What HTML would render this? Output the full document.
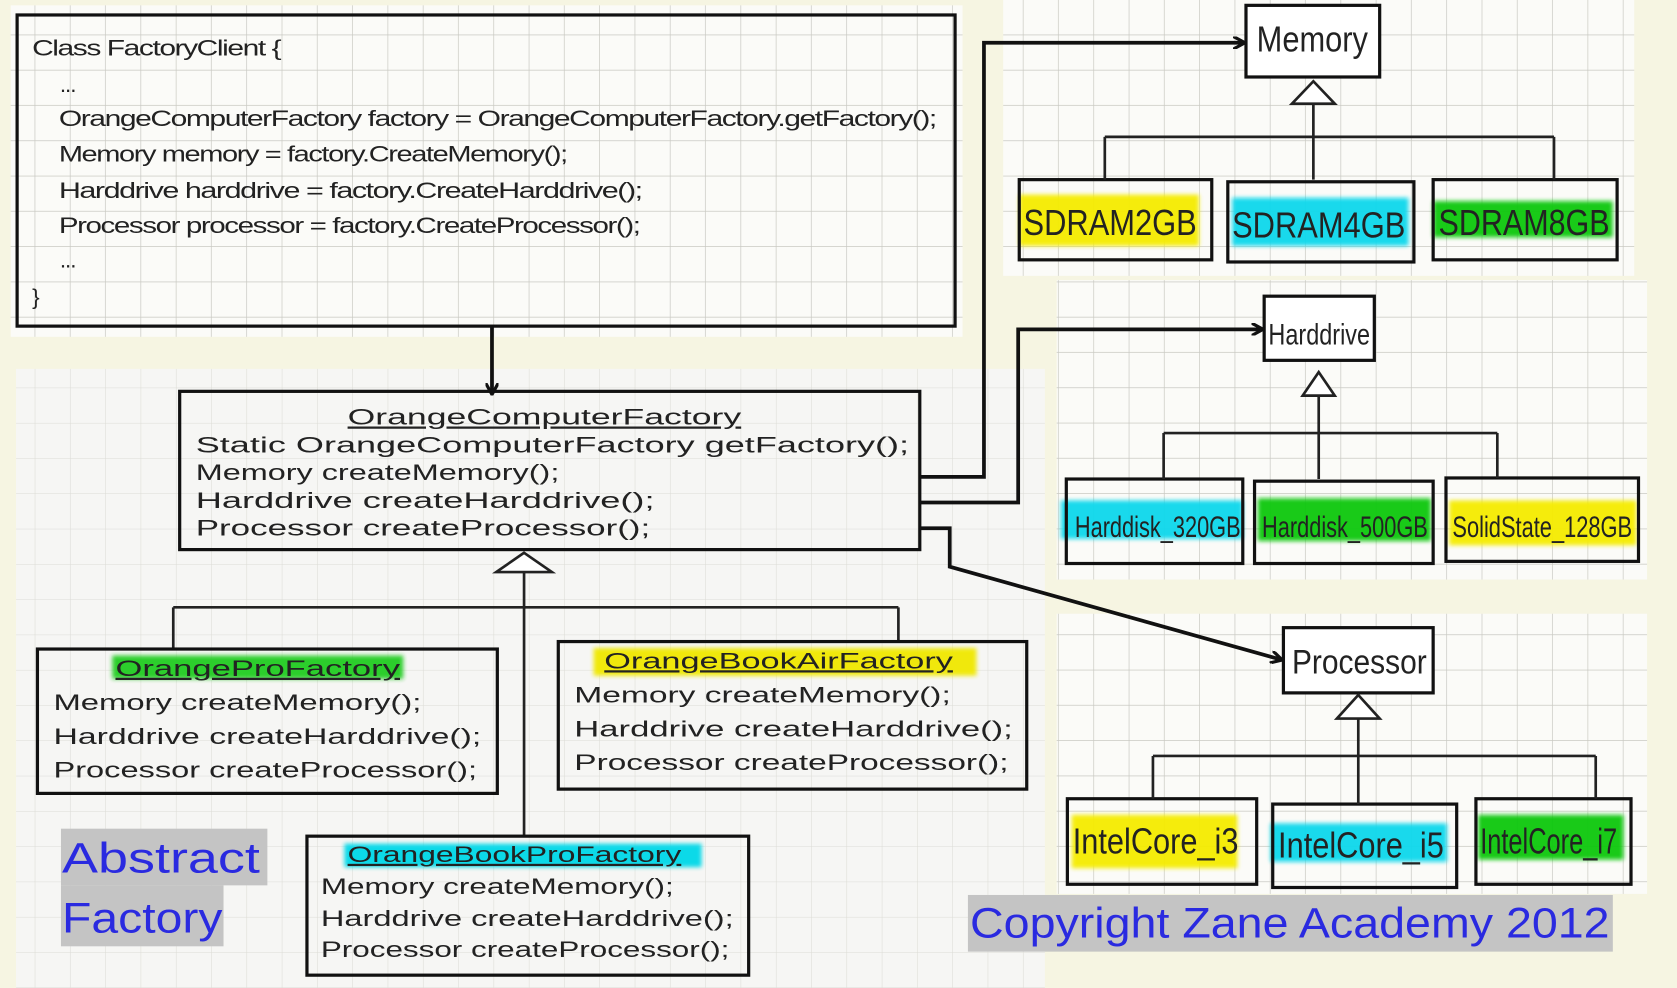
<!DOCTYPE html>
<html><head><meta charset="utf-8"><style>
html,body{margin:0;padding:0;background:#f6f5e2;}
svg{display:block;}
text{font-family:"Liberation Sans",sans-serif;fill:#222;}
</style></head><body>
<svg width="1677" height="988" viewBox="0 0 1568 924" preserveAspectRatio="none" xmlns="http://www.w3.org/2000/svg">
<defs>
<pattern id="g" width="33" height="33" patternUnits="userSpaceOnUse">
<rect width="33" height="33" fill="#fbfbf8"/>
<path d="M33 0V33M0 33H33" stroke="#c9c9c2" stroke-width="1.3" fill="none"/>
</pattern>
<pattern id="g2" width="33" height="33" patternUnits="userSpaceOnUse">
<rect width="33" height="33" fill="#f6f6f4"/>
<path d="M33 0V33M0 33H33" stroke="#dcdcd6" stroke-width="1" fill="none"/>
</pattern>
<marker id="a" markerWidth="12" markerHeight="12" refX="10" refY="6" orient="auto" markerUnits="userSpaceOnUse"><path d="M0,0 L11,6 L0,12" fill="none" stroke="#111" stroke-width="3"/></marker>
<filter id="b"><feGaussianBlur stdDeviation="2"/></filter>
</defs>
<rect width="1568" height="924" fill="#f6f5e2"/>
<!-- panels -->
<rect x="10" y="5" width="890" height="310" fill="url(#g)"/>
<rect x="15" y="345" width="962" height="579" fill="url(#g2)"/>
<rect x="938" y="0" width="590" height="258" fill="url(#g)"/>
<rect x="988" y="262" width="552" height="280" fill="url(#g)"/>
<rect x="988" y="574" width="552" height="262" fill="url(#g)"/>

<!-- client box -->
<rect x="16" y="14" width="877" height="291" fill="none" stroke="#111" stroke-width="3"/>
<g font-size="21" letter-spacing="-1">
<text x="30" y="52" textLength="232" lengthAdjust="spacingAndGlyphs">Class FactoryClient {</text>
<text x="56" y="86">...</text>
<text x="55" y="118" textLength="820" lengthAdjust="spacingAndGlyphs">OrangeComputerFactory  factory = OrangeComputerFactory.getFactory();</text>
<text x="55" y="151" textLength="475" lengthAdjust="spacingAndGlyphs">Memory memory = factory.CreateMemory();</text>
<text x="55" y="185" textLength="545" lengthAdjust="spacingAndGlyphs">Harddrive harddrive = factory.CreateHarddrive();</text>
<text x="55" y="218" textLength="543" lengthAdjust="spacingAndGlyphs">Processor processor = factory.CreateProcessor();</text>
<text x="56" y="250">...</text>
<text x="30" y="285">}</text>
</g>
<line x1="460" y1="305" x2="460" y2="368" stroke="#111" stroke-width="3.5" marker-end="url(#a)"/>

<!-- OCF -->
<rect x="168" y="366" width="692" height="148" fill="none" stroke="#111" stroke-width="3"/>
<g font-size="21">
<text x="325" y="397" textLength="368" lengthAdjust="spacingAndGlyphs" text-decoration="underline">OrangeComputerFactory</text>
<text x="183" y="423" textLength="667" lengthAdjust="spacingAndGlyphs">Static OrangeComputerFactory  getFactory();</text>
<text x="183" y="449" textLength="340" lengthAdjust="spacingAndGlyphs">Memory createMemory();</text>
<text x="183" y="475" textLength="429" lengthAdjust="spacingAndGlyphs">Harddrive createHarddrive();</text>
<text x="183" y="501" textLength="425" lengthAdjust="spacingAndGlyphs">Processor createProcessor();</text>
</g>
<g stroke="#222" stroke-width="2.5" fill="none">
<path d="M490 517 L516 535 L464 535 Z" fill="#fff"/>
<path d="M490 535 V783 M162 568 H840 M162 568 V607 M840 568 V600"/>
</g>

<!-- highlights -->
<g filter="url(#b)" opacity="0.95">
<rect x="105" y="613" width="272" height="22" fill="#22cc22"/>
<rect x="555" y="606" width="358" height="26" fill="#f0e800"/>
<rect x="322" y="789" width="334" height="22" fill="#00d8e8"/>
<rect x="953" y="182" width="168" height="48" fill="#f5ec00"/>
<rect x="1152" y="185" width="165" height="45" fill="#10d8ec"/>
<rect x="1340" y="188" width="168" height="34" fill="#10c810"/>
<rect x="992" y="468" width="170" height="36" fill="#10d8ec"/>
<rect x="1176" y="466" width="162" height="40" fill="#10c810"/>
<rect x="1355" y="468" width="175" height="42" fill="#f5ec00"/>
<rect x="1002" y="762" width="155" height="50" fill="#f5ec00"/>
<rect x="1188" y="770" width="165" height="36" fill="#10d8ec"/>
<rect x="1382" y="762" width="136" height="42" fill="#10c810"/>
</g>

<!-- subclasses -->
<g fill="none" stroke="#111" stroke-width="3">
<rect x="35" y="607" width="430" height="135"/>
<rect x="522" y="600" width="438" height="138"/>
<rect x="287" y="782" width="413" height="130"/>
</g>
<g font-size="21">
<text x="108" y="632" textLength="266" lengthAdjust="spacingAndGlyphs" text-decoration="underline">OrangeProFactory</text>
<text x="50" y="664" textLength="344" lengthAdjust="spacingAndGlyphs">Memory createMemory();</text>
<text x="50" y="696" textLength="400" lengthAdjust="spacingAndGlyphs">Harddrive createHarddrive();</text>
<text x="50" y="727" textLength="396" lengthAdjust="spacingAndGlyphs">Processor createProcessor();</text>
<text x="565" y="625" textLength="326" lengthAdjust="spacingAndGlyphs" text-decoration="underline">OrangeBookAirFactory</text>
<text x="537" y="657" textLength="352" lengthAdjust="spacingAndGlyphs">Memory createMemory();</text>
<text x="537" y="689" textLength="410" lengthAdjust="spacingAndGlyphs">Harddrive createHarddrive();</text>
<text x="537" y="720" textLength="406" lengthAdjust="spacingAndGlyphs">Processor createProcessor();</text>
<text x="325" y="806" textLength="312" lengthAdjust="spacingAndGlyphs" text-decoration="underline">OrangeBookProFactory</text>
<text x="300" y="836" textLength="330" lengthAdjust="spacingAndGlyphs">Memory createMemory();</text>
<text x="300" y="866" textLength="386" lengthAdjust="spacingAndGlyphs">Harddrive createHarddrive();</text>
<text x="300" y="895" textLength="382" lengthAdjust="spacingAndGlyphs">Processor createProcessor();</text>
</g>

<!-- abstract factory label -->
<rect x="57" y="775" width="193" height="53" fill="#c4c4c4"/>
<rect x="57" y="828" width="152" height="57" fill="#c4c4c4"/>
<text x="58" y="816" font-size="40" style="fill:#2a2ae0" textLength="185" lengthAdjust="spacingAndGlyphs">Abstract</text>
<text x="58" y="872" font-size="40" style="fill:#2a2ae0" textLength="150" lengthAdjust="spacingAndGlyphs">Factory</text>

<!-- connectors -->
<g fill="none" stroke="#111" stroke-width="3.5">
<path d="M860 446 H920 V40 H1163" marker-end="url(#a)"/>
<path d="M860 470 H952 V308 H1180" marker-end="url(#a)"/>
<path d="M860 494 H888 V530 L1198 617" marker-end="url(#a)"/>
</g>

<!-- right hierarchies -->
<g fill="none" stroke="#111" stroke-width="3">
<rect x="1165" y="5" width="125" height="67" fill="#fff"/>
<rect x="953" y="168" width="180" height="75"/>
<rect x="1148" y="170" width="174" height="75"/>
<rect x="1340" y="168" width="172" height="75"/>
<rect x="1182" y="277" width="103" height="60" fill="#fff"/>
<rect x="997" y="448" width="165" height="79"/>
<rect x="1173" y="450" width="167" height="77"/>
<rect x="1352" y="447" width="180" height="78"/>
<rect x="1200" y="587" width="140" height="61" fill="#fff"/>
<rect x="998" y="747" width="177" height="80"/>
<rect x="1190" y="752" width="172" height="78"/>
<rect x="1380" y="747" width="145" height="80"/>
</g>
<g fill="none" stroke="#222" stroke-width="2.5">
<path d="M1228 76 L1248 97 L1208 97 Z" fill="#fff"/>
<path d="M1228 97 V168 M1033 128 H1453 M1033 128 V168 M1453 128 V168"/>
<path d="M1233 348 L1248 370 L1218 370 Z" fill="#fff"/>
<path d="M1233 370 V448 M1088 405 H1400 M1088 405 V448 M1400 405 V447"/>
<path d="M1270 650 L1290 672 L1250 672 Z" fill="#fff"/>
<path d="M1270 672 V752 M1078 707 H1492 M1078 707 V747 M1492 707 V747"/>
</g>
<g font-size="34">
<text x="1175" y="48" textLength="104" lengthAdjust="spacingAndGlyphs">Memory</text>
<text x="957" y="220" textLength="162" lengthAdjust="spacingAndGlyphs">SDRAM2GB</text>
<text x="1152" y="222" textLength="162" lengthAdjust="spacingAndGlyphs">SDRAM4GB</text>
<text x="1345" y="220" textLength="160" lengthAdjust="spacingAndGlyphs">SDRAM8GB</text>
<text x="1186" y="322" font-size="28" textLength="95" lengthAdjust="spacingAndGlyphs">Harddrive</text>
<text x="1005" y="502" font-size="28" textLength="155" lengthAdjust="spacingAndGlyphs">Harddisk_320GB</text>
<text x="1180" y="502" font-size="28" textLength="155" lengthAdjust="spacingAndGlyphs">Harddisk_500GB</text>
<text x="1358" y="502" font-size="28" textLength="168" lengthAdjust="spacingAndGlyphs">SolidState_128GB</text>
<text x="1208" y="630" font-size="32" textLength="126" lengthAdjust="spacingAndGlyphs">Processor</text>
<text x="1003" y="798" textLength="155" lengthAdjust="spacingAndGlyphs">IntelCore_i3</text>
<text x="1195" y="802" textLength="155" lengthAdjust="spacingAndGlyphs">IntelCore_i5</text>
<text x="1384" y="798" textLength="128" lengthAdjust="spacingAndGlyphs">IntelCore_i7</text>
</g>

<!-- copyright -->
<rect x="905" y="837" width="603" height="53" fill="#c4c4c4"/>
<text x="907" y="877" font-size="40" style="fill:#2a2ae0" textLength="598" lengthAdjust="spacingAndGlyphs">Copyright Zane Academy 2012</text>
</svg>
</body></html>
